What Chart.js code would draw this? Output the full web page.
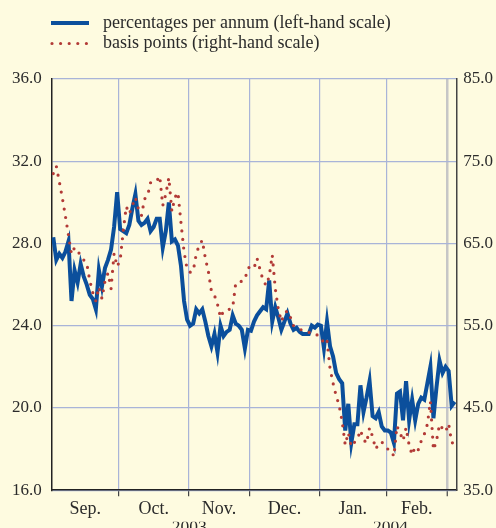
<!DOCTYPE html>
<html>
<head>
<meta charset="utf-8">
<script src="https://cdn.jsdelivr.net/npm/chart.js@4.4.1/dist/chart.umd.min.js"></script>
<style>
  html, body { margin: 0; padding: 0; overflow: hidden; background: #fefbe0; }
  canvas { display: block; }
</style>
</head>
<body>
<canvas id="chart" width="496" height="535"></canvas>
<script>
// business days from 1 Sep 2003 to early Mar 2004, one value per day
const monthNames = ['Sep.', 'Oct.', 'Nov.', 'Dec.', 'Jan.', 'Feb.'];
const monthEdges = [-0.5, 21.5, 44.5, 64.5, 87.5, 109.5, 129.5];
const yearLabels = ['2003', '2004'];
const yearCenters = [44.7, 110.9];

// percentages per annum (left-hand scale)
const pctValues = [
  28.3, 27.2, 27.5, 27.3, 27.6, 28.1, 25.2, 26.7, 26.1, 27.0, 26.4, 26.0, 25.5, 25.3, 24.8, 26.7, 25.9, 26.8, 27.2, 27.7, 28.8, 30.5,
  28.7, 28.6, 28.5, 28.9, 29.7, 30.4, 29.1, 28.9, 29.0, 29.2, 28.6, 28.8, 29.2, 29.2, 27.8, 28.6, 30.0, 28.1, 28.2, 27.9, 26.9, 25.2, 24.3,
  24.0, 24.1, 24.8, 24.6, 24.8, 24.2, 23.5, 23.0, 23.6, 22.7, 24.0, 23.5, 23.7, 23.8, 24.5, 24.1, 24.0, 23.8, 22.9, 23.8,
  23.75, 24.2, 24.5, 24.7, 24.9, 24.8, 26.2, 24.2, 24.9, 24.4, 23.8, 24.2, 24.6, 24.1, 23.8, 23.9, 23.7, 23.6, 23.6, 23.6, 24.0, 23.9, 24.05,
  24.0, 22.9, 24.2, 23.0, 22.5, 21.7, 21.4, 21.2, 18.9, 20.2, 18.3, 19.2, 19.2, 21.1, 19.8, 20.5, 21.3, 19.6, 19.5, 19.8, 19.1, 18.9,
  18.9, 18.8, 18.3, 20.7, 20.8, 19.4, 21.3, 19.4, 20.4, 19.4, 20.2, 20.5, 20.4, 21.2, 22.0, 19.5, 21.0, 22.3, 21.7, 22.0,
  21.8, 20.1, 20.3
];

// basis points (right-hand scale)
const bpValues = [
  73.5, 74.4, 72.5, 70.5, 68.3, 66.0, 63.7, 64.5, 64.2, 63.4, 63.0, 62.6, 60.5, 59.0, 58.0, 59.7, 58.3, 60.4, 61.4, 59.5, 63.8, 62.2,
  63.0, 66.5, 69.5, 68.6, 69.6, 70.6, 69.2, 68.4, 70.4, 70.8, 72.4, 72.4, 72.6, 73.2, 69.6, 71.0, 73.0, 68.9, 70.6, 71.2, 67.5, 64.0, 61.9,
  61.5, 61.6, 63.7, 64.8, 65.4, 63.2, 61.6, 59.2, 58.7, 57.6, 56.0, 56.8, 56.9, 57.0, 57.2, 60.2, 60.3, 60.4, 60.6, 62.0,
  62.2, 62.0, 63.2, 61.8, 60.5, 59.9, 61.0, 63.6, 59.5, 57.0, 55.5, 56.5, 56.8, 56.0, 55.0, 54.8, 54.6, 54.4, 54.3, 54.2, 54.1, 54.1, 53.8,
  53.6, 52.8, 53.2, 49.8, 48.0, 46.5, 45.3, 43.3, 40.5, 42.0, 40.3, 40.8, 41.2, 42.3, 41.2, 40.7, 42.6, 41.5, 40.0, 40.6, 40.9, 40.3,
  40.0, 39.9, 39.1, 42.8, 42.0, 41.0, 42.6, 40.5, 39.3, 40.3, 39.9, 41.0, 41.8, 43.0, 45.8, 39.9, 41.0, 43.0, 42.5, 42.1,
  43.1, 40.8, 40.6
];

const blue = '#0b4f9c';
const red = '#b23a36';
const gridBlue = '#a9b4d8';
const textColor = '#2b2b2b';
const serif = 'Liberation Serif';

function toPoints(values) {
  return values.map((v, i) => ({x: i, y: v}));
}

function midpoints(edges) {
  const mids = [];
  for (let i = 0; i < edges.length - 1; i++) {
    mids.push((edges[i] + edges[i + 1]) / 2);
  }
  return mids;
}

// legend drawn above the plot, two rows
const topLegend = {
  id: 'topLegend',
  afterDraw(chart) {
    const ctx = chart.ctx;
    const rows = [23, 43.5];
    ctx.save();
    chart.data.datasets.forEach((ds, i) => {
      const y = rows[i];
      ctx.beginPath();
      ctx.strokeStyle = ds.borderColor;
      ctx.lineWidth = ds.borderWidth;
      ctx.lineCap = ds.borderCapStyle;
      ctx.setLineDash(ds.borderDash || []);
      ctx.moveTo(ds.borderDash ? 52 : 51, y);
      ctx.lineTo(89, y);
      ctx.stroke();
      ctx.setLineDash([]);
      ctx.fillStyle = textColor;
      ctx.font = '18px "' + serif + '"';
      ctx.textBaseline = 'middle';
      ctx.textAlign = 'left';
      ctx.fillText(ds.label, 103, y);
    });
    ctx.restore();
  }
};

const chart = new Chart(document.getElementById('chart'), {
  type: 'line',
  data: {
    datasets: [
      {
        label: 'percentages per annum (left-hand scale)',
        data: toPoints(pctValues),
        yAxisID: 'y',
        borderColor: blue,
        borderWidth: 4,
        borderCapStyle: 'butt',
        borderJoinStyle: 'miter',
        pointRadius: 0,
        tension: 0,
        order: 2
      },
      {
        label: 'basis points (right-hand scale)',
        data: toPoints(bpValues),
        yAxisID: 'y1',
        borderColor: red,
        borderWidth: 3.2,
        borderDash: [0, 8.6],
        borderCapStyle: 'round',
        pointRadius: 0,
        tension: 0,
        order: 1
      }
    ]
  },
  options: {
    responsive: false,
    animation: false,
    devicePixelRatio: 1,
    layout: {padding: {top: 79, left: 2, right: -4, bottom: 1}},
    plugins: {
      legend: {display: false},
      tooltip: {enabled: false}
    },
    scales: {
      x: {
        type: 'linear',
        position: 'bottom',
        min: -0.5,
        max: 132.5,
        weight: 0,
        afterBuildTicks: scale => {
          scale.ticks = monthEdges.slice(1).map(v => ({value: v}));
        },
        ticks: {display: false},
        grid: {
          color: c => (c.tick && c.tick.value === 129.5) ? '#c6c6c6' : gridBlue,
          lineWidth: c => (c.tick && c.tick.value === 129.5) ? 2.5 : 1.2,
          drawTicks: true,
          tickLength: 6,
          tickColor: '#444',
          tickWidth: 1.2
        },
        border: {color: '#222', width: 1.5}
      },
      xMonth: {
        type: 'linear',
        position: 'bottom',
        min: -0.5,
        max: 132.5,
        weight: 1,
        afterBuildTicks: scale => {
          scale.ticks = midpoints(monthEdges).map(v => ({value: v}));
        },
        ticks: {
          autoSkip: false,
          maxRotation: 0,
          padding: 2,
          color: textColor,
          font: {family: serif, size: 18},
          callback: (v, i) => monthNames[i]
        },
        grid: {display: false, drawTicks: false},
        border: {display: false}
      },
      xYear: {
        type: 'linear',
        position: 'bottom',
        min: -0.5,
        max: 132.5,
        weight: 2,
        afterBuildTicks: scale => {
          scale.ticks = yearCenters.map(v => ({value: v}));
        },
        ticks: {
          autoSkip: false,
          maxRotation: 0,
          padding: 0,
          color: textColor,
          font: {family: serif, size: 17.5, lineHeight: 0.7},
          callback: (v, i) => yearLabels[i]
        },
        grid: {display: false, drawTicks: false},
        border: {display: false}
      },
      y: {
        position: 'left',
        min: 16,
        max: 36,
        ticks: {
          stepSize: 4,
          padding: 10,
          color: textColor,
          font: {family: serif, size: 17},
          callback: v => v.toFixed(1)
        },
        grid: {color: gridBlue, lineWidth: 1.2, drawTicks: false},
        border: {color: '#222', width: 1.5}
      },
      y1: {
        position: 'right',
        min: 35,
        max: 85,
        ticks: {
          stepSize: 10,
          padding: 7,
          color: textColor,
          font: {family: serif, size: 17},
          callback: v => v.toFixed(1)
        },
        grid: {display: false, drawTicks: false},
        border: {color: '#444', width: 1.5}
      }
    }
  },
  plugins: [topLegend]
});
</script>
</body>
</html>
